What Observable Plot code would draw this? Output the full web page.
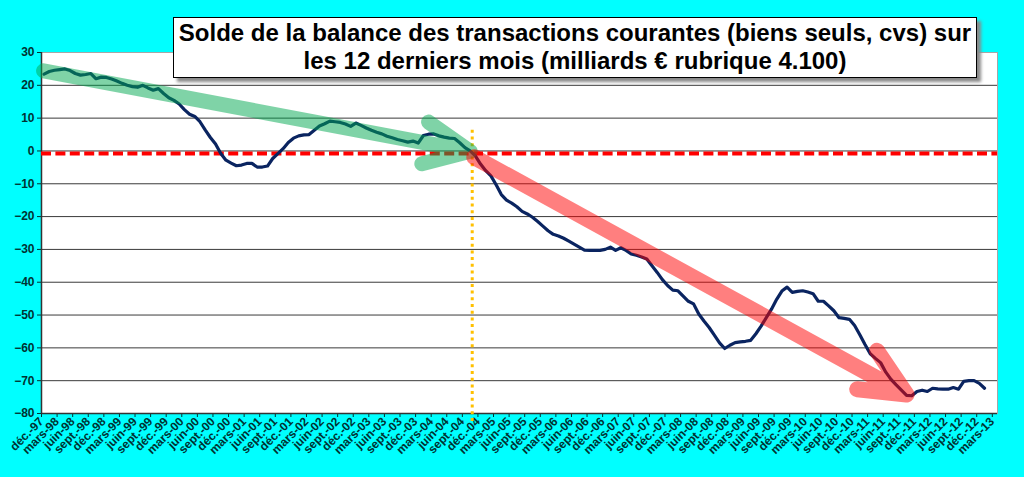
<!DOCTYPE html>
<html>
<head>
<meta charset="utf-8">
<script src="https://cdn.jsdelivr.net/npm/d3@7"></script>
<script src="https://cdn.jsdelivr.net/npm/@observablehq/plot@0.6"></script>
<style>
  html, body { margin: 0; padding: 0; background: #00ffff; width: 1024px; height: 477px; overflow: hidden; }
  #wrap { position: relative; width: 1024px; height: 477px; }
  #title {
    position: absolute; left: 173px; top: 17px; width: 802px; height: 58px;
    background: #fff; border: 1px solid #000; box-shadow: 4px 4px 3px #8a8a8a;
    font-family: "Liberation Sans", Arial, sans-serif; font-weight: bold; font-size: 24px;
    line-height: 28px; text-align: center; color: #000; box-sizing: content-box; padding-top: 1px;
    white-space: nowrap;
  }
  svg { position: absolute; left: 0; top: 0; }
</style>
</head>
<body>
<div id="wrap">
  <div id="chart"></div>
  <div id="title">Solde de la balance des transactions courantes (biens seuls, cvs) sur<br>les 12 derniers mois (milliards € rubrique 4.100)</div>
</div>
<script>
// Quarterly tick labels (one every 3 months, from déc.-97)
const monthLabels = [
  "déc.-97","mars-98","juin-98","sept.-98","déc.-98","mars-99","juin-99","sept.-99","déc.-99",
  "mars-00","juin-00","sept.-00","déc.-00","mars-01","juin-01","sept.-01","déc.-01",
  "mars-02","juin-02","sept.-02","déc.-02","mars-03","juin-03","sept.-03","déc.-03",
  "mars-04","juin-04","sept.-04","déc.-04","mars-05","juin-05","sept.-05","déc.-05",
  "mars-06","juin-06","sept.-06","déc.-06","mars-07","juin-07","sept.-07","déc.-07",
  "mars-08","juin-08","sept.-08","déc.-08","mars-09","juin-09","sept.-09","déc.-09",
  "mars-10","juin-10","sept.-10","déc.-10","mars-11","juin-11","sept.-11","déc.-11",
  "mars-12","juin-12","sept.-12","déc.-12","mars-13"
];

// Monthly 12-month rolling balance (billions €), Dec 1997 -> Jan 2013
const balance = [
  23.4, 24.2, 24.6, 24.8, 25.0, 24.5, 23.6, 23.1, 23.3, 23.6,
  22.0, 22.5, 22.4, 21.9, 21.3, 20.6, 20.0, 19.6, 19.4, 20.0,
  19.2, 18.5, 19.0, 17.5, 16.2, 15.4, 14.3, 12.6, 11.2, 10.5,
  8.9, 6.4, 4.1, 2.1, -0.8, -2.8, -3.7, -4.5, -4.3, -3.8,
  -3.8, -4.9, -4.9, -4.6, -2.3, -0.8, 0.7, 2.6, 3.9, 4.6,
  4.9, 5.0, 6.3, 7.6, 8.3, 9.1, 8.9, 8.7, 8.2, 7.5,
  8.5, 7.8, 7.0, 6.3, 5.7, 5.2, 4.5, 4.0, 3.5, 3.1,
  2.7, 3.0, 2.4, 4.7, 5.1, 5.2, 4.6, 4.2, 3.9, 3.8,
  2.5, 1.0, 0.0, -1.5, -4.0, -6.0, -7.6, -10.3, -13.3, -15.0,
  -15.9, -17.0, -18.4, -19.2, -20.2, -21.5, -22.9, -24.3, -25.4, -25.9,
  -26.6, -27.5, -28.4, -29.3, -30.2, -30.3, -30.3, -30.3, -30.0, -29.3,
  -30.3, -29.5, -30.3, -31.4, -31.8, -32.3, -32.9, -35.0, -37.0, -39.2,
  -41.0, -42.4, -42.6, -44.2, -45.8, -46.6, -49.7, -51.8, -53.8, -56.1,
  -58.5, -60.2, -59.2, -58.4, -58.2, -58.0, -57.7, -55.7, -53.4, -50.8,
  -48.2, -45.2, -42.7, -41.5, -43.1, -42.8, -42.6, -43.0, -43.5, -45.8,
  -45.8, -47.2, -48.7, -50.8, -51.0, -51.3, -53.2, -56.0, -59.0, -61.8,
  -63.2, -64.5, -67.4, -69.6, -71.3, -72.9, -74.5, -74.6, -73.3, -72.9,
  -73.3, -72.3, -72.5, -72.6, -72.6, -72.1, -72.6, -70.2, -70.0, -70.0,
  -70.8, -72.3
];

const yTicks = [30, 20, 10, 0, -10, -20, -30, -40, -50, -60, -70, -80];
const gridValues = [20, 10, 0, -10, -20, -30, -40, -50, -60, -70];
const zeroLine = [-0.8];
const crossing = [{x: 82.4, y1: 6.3, y2: -82.8}];
const greenArrow = [
  {x: -0.1, y: 24.4}, {x: 82.0, y: -0.1}, {x: 74.0, y: 8.8}, {x: 82.0, y: -0.1}, {x: 72.7, y: -3.9}
];
const redArrow = [
  {x: 82.8, y: -1.9}, {x: 166.0, y: -74.2}, {x: 160.3, y: -60.9}, {x: 166.0, y: -74.2}, {x: 156.5, y: -72.6}
];

const points = balance.map((v, i) => ({i, v}));
const xTickPositions = monthLabels.map((_, k) => 3 * k - 0.5);

const chart = Plot.plot({
  width: 1024,
  height: 477,
  marginLeft: 41,
  marginRight: 27,
  marginTop: 52,
  marginBottom: 64,
  style: {background: "transparent", fontFamily: "'Liberation Sans', Arial, sans-serif", fontWeight: "bold", fontSize: "12px", color: "#003333", overflow: "visible"},
  x: {
    type: "linear",
    domain: [-0.5, 183.5],
    ticks: xTickPositions,
    tickFormat: d => monthLabels[Math.round((d + 0.5) / 3)],
    tickRotate: -45,
    tickSize: 4,
    tickPadding: 2,
    label: null
  },
  y: {
    domain: [-80, 30],
    ticks: yTicks,
    tickSize: 4,
    tickPadding: 3,
    label: null
  },
  marks: [
    Plot.frame({fill: "white", stroke: "#a6a6a6"}),
    Plot.ruleY(gridValues, {stroke: "#3a3a3a", strokeWidth: 1}),
    Plot.ruleX([-0.5], {stroke: "#333", strokeWidth: 1.5}),
    Plot.ruleY([-80], {stroke: "#333", strokeWidth: 1.5}),
    Plot.ruleY(zeroLine, {stroke: "#ff0000", strokeWidth: 4, strokeDasharray: "10,4.4"}),
    Plot.ruleX(crossing, {x: "x", y1: "y1", y2: "y2", stroke: "#ffc000", strokeWidth: 3, strokeDasharray: "3,3.7"}),
    Plot.line(points, {x: "i", y: "v", stroke: "#0a2460", strokeWidth: 3.2, strokeLinejoin: "round"}),
    Plot.line(greenArrow, {x: "x", y: "y", stroke: "#00a850", strokeOpacity: 0.5, strokeWidth: 15, strokeLinecap: "round", strokeLinejoin: "round"}),
    Plot.line(redArrow, {x: "x", y: "y", stroke: "#ff0000", strokeOpacity: 0.5, strokeWidth: 16, strokeLinecap: "round", strokeLinejoin: "round"})
  ]
});
chart.querySelectorAll("text").forEach(t => {
  t.setAttribute("font-weight", "bold");
  t.setAttribute("font-size", "12");
  t.style.fontWeight = "bold";
  t.style.fontSize = "12px";
});
chart.querySelectorAll("g").forEach(g => {
  const lab = g.getAttribute("aria-label") || "";
  if (lab.includes("axis")) { g.setAttribute("font-size", "12"); g.style.fontSize = "12px"; }
});
document.getElementById("chart").appendChild(chart);
</script>
</body>
</html>
